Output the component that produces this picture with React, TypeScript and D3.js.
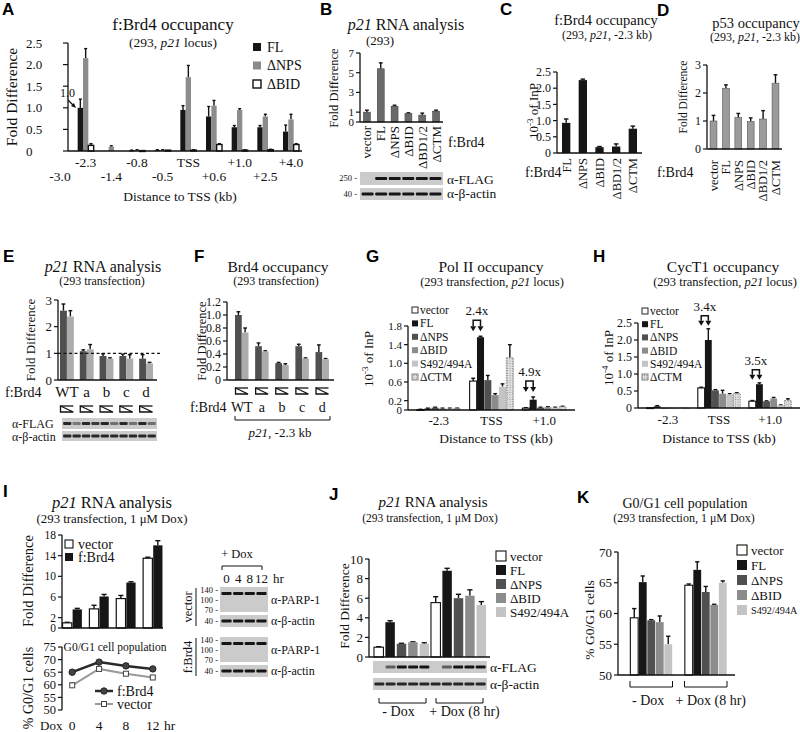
import React from "react";
import * as d3 from "d3";

const SERIF = "'Liberation Serif','Times New Roman',Times,serif";
const SANS = "'Liberation Sans',Arial,Helvetica,sans-serif";
const INK = "#111";
const C_BLACK = "#161616";
const C_DARK = "#505050";
const C_MID = "#8c8c8c";
const C_LIGHT = "#c4c4c4";

// ================= DATA =================
// Panel A : f:Brd4 occupancy along p21 locus
const aSites = ["-3.0", "-2.3", "-1.4", "-0.8", "-0.5", "TSS", "+0.6", "+1.0", "+2.5", "+4.0"];
const aSeries = ["FL", "ΔNPS", "ΔBID"];
const aFL = [0, 1.0, 0, 0.01, 0.02, 0.95, 0.8, 0.55, 0.55, 0.45];
const aFLErr = [0, 0.2, 0, 0.01, 0.01, 0.1, 0.23, 0.04, 0.04, 0.15];
const aNPS = [0, 2.15, 0.1, 0.02, 0.02, 1.71, 1.05, 0.95, 0.8, 0.73];
const aNPSErr = [0, 0.22, 0.02, 0.01, 0.01, 0.27, 0.12, 0.03, 0.05, 0.12];
const aBID = [0, 0.13, 0, 0.01, 0.02, 0.02, 0.15, 0.02, 0.03, 0.15];
const aBIDErr = [0, 0.04, 0, 0, 0, 0.01, 0.02, 0.01, 0.01, 0.02];
const aTicks = [0, 0.5, 1.0, 1.5, 2.0, 2.5];

// Panel B : p21 RNA
const bCats = ["vector", "FL", "ΔNPS", "ΔBID", "ΔBD1/2", "ΔCTM"];
const bVals = [1.0, 5.4, 1.6, 0.85, 0.7, 1.1];
const bErr = [0.2, 0.6, 0.1, 0.08, 0.2, 0.1];
const bTicks = [0, 1, 3, 5, 7];
const bFlagBands = [0, 1, 1, 1, 1, 1];
const bActinBands = [1, 1, 1, 1, 1, 1];

// Panel C : f:Brd4 occupancy -2.3 kb
const cCats = ["FL", "ΔNPS", "ΔBID", "ΔBD1/2", "ΔCTM"];
const cVals = [0.93, 2.25, 0.18, 0.2, 0.75];
const cErr = [0.12, 0.03, 0.02, 0.08, 0.08];
const cTicks = [0, 0.5, 1.0, 1.5, 2.0, 2.5];

// Panel D : p53 occupancy
const dCats = ["vector", "FL", "ΔNPS", "ΔBID", "ΔBD1/2", "ΔCTM"];
const dVals = [1.0, 2.17, 1.12, 0.98, 1.07, 2.35];
const dErr = [0.2, 0.12, 0.15, 0.13, 0.3, 0.3];
const dTicks = [0, 1, 2, 3];

// Panel E : p21 RNA (transfection)
const eCats = ["WT", "a", "b", "c", "d"];
const eDoses = ["high", "low"];
const eHigh = [2.6, 1.08, 0.9, 0.9, 0.8];
const eHighErr = [0.25, 0.05, 0.08, 0.07, 0.15];
const eLow = [2.38, 1.15, 0.8, 0.8, 0.62];
const eLowErr = [0.22, 0.18, 0.03, 0.15, 0.04];
const eTicks = [0, 1, 2, 3];
const eFlagBands = [0.9, 0.45, 0.9, 0.8, 0.9, 0.5, 0.9, 0.5, 0.9, 0.5];
const eActinBands = [0.9, 0.9, 0.9, 0.9, 0.9, 0.9, 0.9, 0.9, 0.9, 0.9];

// Panel F : Brd4 occupancy (transfection)
const fHigh = [1.0, 0.52, 0.26, 0.52, 0.43];
const fHighErr = [0.05, 0.05, 0.01, 0.03, 0.11];
const fLow = [0.73, 0.44, 0.23, 0.33, 0.32];
const fLowErr = [0.07, 0.01, 0.02, 0.01, 0.01];
const fTicks = [0, 0.2, 0.4, 0.6, 0.8, 1.0, 1.2];

// Panels G / H
const ghSites = ["-2.3", "TSS", "+1.0"];
const ghSeries = ["vector", "FL", "ΔNPS", "ΔBID", "S492/494A", "ΔCTM"];
const gVector = [0.01, 0.62, 0.04];
const gVectorErr = [0.005, 0.06, 0.01];
const gFL = [0.03, 1.56, 0.22];
const gFLErr = [0.01, 0.02, 0.06];
const gNPS = [0.05, 0.64, 0.05];
const gNPSErr = [0.01, 0.1, 0.01];
const gBID = [0.03, 0.32, 0.06];
const gBIDErr = [0.01, 0.03, 0.01];
const gS492 = [0.03, 0.5, 0.05];
const gS492Err = [0.01, 0.06, 0.01];
const gCTM = [0.03, 1.12, 0.07];
const gCTMErr = [0.01, 0.28, 0.01];
const gTicks = [0, 0.2, 0.6, 1.0, 1.4, 1.8];
const gFolds = ["", "2.4x", "4.9x"];

const hVector = [0.01, 0.59, 0.2];
const hVectorErr = [0, 0.02, 0.02];
const hFL = [0.05, 2.0, 0.7];
const hFLErr = [0.02, 0.33, 0.04];
const hNPS = [0.01, 0.52, 0.2];
const hNPSErr = [0, 0.02, 0.01];
const hBID = [0.01, 0.42, 0.28];
const hBIDErr = [0, 0.1, 0.03];
const hS492 = [0.01, 0.4, 0.08];
const hS492Err = [0, 0.02, 0.01];
const hCTM = [0.01, 0.43, 0.22];
const hCTMErr = [0, 0.02, 0.05];
const hTicks = [0, 0.5, 1.0, 1.5, 2.0, 2.5];
const hFolds = ["", "3.4x", "3.5x"];

// Panel I
const iTimes = ["0", "4", "8", "12"];
const iSeries = ["vector", "f:Brd4"];
const iVector = [1.0, 3.7, 5.7, 13.5];
const iVectorErr = [0.1, 0.7, 0.6, 0.2];
const iBrd4 = [3.6, 6.1, 8.8, 16.0];
const iBrd4Err = [0.2, 0.4, 0.15, 0.9];
const iTicks = [0, 2, 6, 10, 14, 18];
const iG1Brd4 = [65.0, 69.0, 67.5, 66.3];
const iG1Brd4Err = [0.8, 0.6, 1.0, 0.6];
const iG1Vector = [59.8, 66.3, 64.4, 62.9];
const iG1VectorErr = [0.9, 0.5, 0.6, 0.8];
const iG1Ticks = [50, 55, 60, 65, 70, 75];
const iParpBands = [1, 1, 1, 1];
const iActinBands = [1, 1, 1, 1];

// Panels J / K
const jkGroups = ["- Dox", "+ Dox (8 hr)"];
const jkSeries = ["vector", "FL", "ΔNPS", "ΔBID", "S492/494A"];
const jMinus = [1.0, 3.55, 1.35, 1.5, 1.35];
const jMinusErr = [0.05, 0.15, 0.05, 0.05, 0.1];
const jPlus = [5.55, 8.8, 6.0, 6.25, 5.3];
const jPlusErr = [0.6, 0.25, 0.4, 0.6, 0.35];
const jTicks = [0, 2, 4, 6, 8, 10];
const jFlagBands = [0, 0.6, 1, 1, 1, 0, 0.6, 1, 1, 1];
const jActinBands = [0.9, 0.9, 0.9, 0.9, 0.9, 0.9, 0.9, 0.9, 0.9, 0.9];

const kMinus = [59.3, 65.1, 58.9, 58.6, 55.0];
const kMinusErr = [1.5, 1.0, 0.1, 1.0, 1.3];
const kPlus = [64.6, 67.1, 63.5, 61.4, 65.0];
const kPlusErr = [0.2, 1.3, 0.9, 0.1, 0.3];
const kTicks = [50, 55, 60, 65, 70];

// ================= HELPERS =================
const f1 = (d: number) => (d === 0 ? "0" : d.toFixed(1));
const f0 = (d: number) => String(d);

function Letter({ x, y, c }: any) {
  return (
    <text x={x} y={y} fontFamily={SANS} fontWeight={700} fontSize={17} fill="#000">
      {c}
    </text>
  );
}

function YAxis({ y, x, ticks, fmt = f0, fs = 12, tick = 4, anchor = "end", lx }: any) {
  const lo = Math.min(...ticks);
  const hi = Math.max(...ticks);
  return (
    <g>
      <line x1={x} x2={x} y1={y(lo)} y2={y(hi)} stroke={INK} strokeWidth={1.3} />
      {ticks.map((t: number) => (
        <g key={t}>
          <line x1={x - tick} x2={x} y1={y(t)} y2={y(t)} stroke={INK} strokeWidth={1.2} />
          <text
            x={lx !== undefined ? lx : x - tick - 2}
            y={y(t)}
            dy="0.35em"
            textAnchor={anchor}
            fontSize={fs}
          >
            {fmt(t)}
          </text>
        </g>
      ))}
    </g>
  );
}

function HLine({ x1, x2, y }: any) {
  return <line x1={x1} x2={x2} y1={y} y2={y} stroke={INK} strokeWidth={1.3} />;
}

function VLabel({ x, y, fs, children }: any) {
  return (
    <text transform={`translate(${x},${y}) rotate(-90)`} textAnchor="middle" fontSize={fs}>
      {children}
    </text>
  );
}

function RotLabel({ x, y, fs, children }: any) {
  return (
    <text transform={`translate(${x},${y}) rotate(-90)`} textAnchor="end" dy="0.35em" fontSize={fs}>
      {children}
    </text>
  );
}

function Bar({ x, w, y, v, e = 0, fill, stroke = "none", sw = 0, dash, capW, base }: any) {
  if (!(v > 0)) return null;
  const b = base !== undefined ? base : y(y.domain()[0]);
  const top = y(v);
  const cx = x + w / 2;
  const cw = capW !== undefined ? capW : Math.max(3, w * 0.55);
  return (
    <g>
      {e > 0 && (
        <g stroke={INK} strokeWidth={1.4}>
          <line x1={cx} x2={cx} y1={top} y2={y(v + e)} />
          <line x1={cx - cw / 2} x2={cx + cw / 2} y1={y(v + e)} y2={y(v + e)} />
        </g>
      )}
      <rect
        x={x}
        y={top}
        width={w}
        height={Math.max(0.9, b - top)}
        fill={fill}
        stroke={stroke}
        strokeWidth={sw}
        strokeDasharray={dash}
      />
    </g>
  );
}

function Blot({ x0, x1, y0, h, bands, bandH = 3, fill = "#cbcbcb", dy = 0 }: any) {
  const lane = d3.scaleBand<number>().domain(d3.range(bands.length)).range([x0, x1]).padding(0.12);
  return (
    <g>
      <rect x={x0} y={y0} width={x1 - x0} height={h} fill={fill} />
      {bands.map((b: number, i: number) =>
        b > 0 ? (
          <rect
            key={i}
            x={lane(i)}
            y={y0 + h / 2 - bandH / 2 + dy}
            width={lane.bandwidth()}
            height={bandH}
            rx={1}
            fill="#151515"
            opacity={b}
          />
        ) : null
      )}
    </g>
  );
}

function Marker({ x, y, label }: any) {
  return (
    <text x={x} y={y} dy="0.35em" textAnchor="end" fontSize={8.5}>
      {label} -
    </text>
  );
}

function Wedge({ x, w, y, h }: any) {
  return (
    <g stroke={INK} strokeWidth={1.3} fill="#fff">
      <path d={`M${x},${y} L${x + w},${y + h} L${x},${y + h} Z`} />
      <line x1={x} x2={x + w} y1={y} y2={y} />
    </g>
  );
}

function Bracket({ x1, x2, y, h }: any) {
  return <path d={`M${x1},${y - h} V${y} H${x2} V${y - h}`} fill="none" stroke={INK} strokeWidth={1} />;
}

function FoldArrow({ x1, x2, top, tip, label, fs = 13 }: any) {
  const ah = 5;
  const aw = 3;
  return (
    <g>
      <path d={`M${x1},${tip - ah} V${top} H${x2} V${tip - ah}`} fill="none" stroke={INK} strokeWidth={1.5} />
      <path d={`M${x1 - aw},${tip - ah} L${x1 + aw},${tip - ah} L${x1},${tip} Z`} fill={INK} />
      <path d={`M${x2 - aw},${tip - ah} L${x2 + aw},${tip - ah} L${x2},${tip} Z`} fill={INK} />
      <text x={(x1 + x2) / 2} y={top - 5} textAnchor="middle" fontSize={fs}>
        {label}
      </text>
    </g>
  );
}

function InP({ exp }: any) {
  return (
    <>
      <tspan>10</tspan>
      <tspan dy={-5} fontSize={9}>
        {exp}
      </tspan>
      <tspan dy={5}> of InP</tspan>
    </>
  );
}

// ================= PANELS =================
function PanelA() {
  const y = d3.scaleLinear().domain([0, 2.5]).range([151, 43]);
  const x = d3.scalePoint<string>().domain(aSites).range([60, 291]);
  const inner = d3.scaleBand<string>().domain(aSeries).range([-8, 8]);
  const bw = inner.bandwidth();
  const series = [
    { v: aFL, e: aFLErr, fill: C_BLACK, stroke: "none", sw: 0 },
    { v: aNPS, e: aNPSErr, fill: C_MID, stroke: "none", sw: 0 },
    { v: aBID, e: aBIDErr, fill: "#fff", stroke: INK, sw: 1.4 },
  ];
  const legY = d3.scalePoint<string>().domain(aSeries).range([47, 84]);
  return (
    <g>
      <Letter x={2} y={15} c="A" />
      <text x={173} y={30} textAnchor="middle" fontSize={17}>
        f:Brd4 occupancy
      </text>
      <text x={173} y={47} textAnchor="middle" fontSize={13.5}>
        (293, <tspan fontStyle="italic">p21</tspan> locus)
      </text>
      <YAxis y={y} x={68} ticks={aTicks} fmt={f1} fs={13} tick={5} anchor="start" lx={26} />
      {series.map((s, si) =>
        aSites.map((site, i) => (
          <Bar
            key={site + si}
            x={(x(site) as number) + (inner(aSeries[si]) as number)}
            w={bw}
            y={y}
            v={s.v[i]}
            e={s.e[i]}
            fill={s.fill}
            stroke={s.stroke}
            sw={s.sw}
          />
        ))
      )}
      <HLine x1={68} x2={302} y={y(0)} />
      {aSites.map((site, i) => (
        <text key={site} x={x(site)} y={i % 2 === 1 ? 167 : 181} textAnchor="middle" fontSize={13.5}>
          {site}
        </text>
      ))}
      <text x={180} y={201} textAnchor="middle" fontSize={13.5}>
        Distance to TSS (kb)
      </text>
      <VLabel x={17} y={97} fs={15.5}>
        Fold Difference
      </VLabel>
      <text x={60} y={97} fontSize={12}>
        1.0
      </text>
      <line x1={68} y1={100} x2={74} y2={106} stroke={INK} strokeWidth={1.2} />
      <path d="M76,108 L71,106 L74,103 Z" fill={INK} />
      {aSeries.map((s, si) => (
        <g key={s}>
          <rect
            x={253}
            y={(legY(s) as number) - 4}
            width={8}
            height={8}
            fill={series[si].fill}
            stroke={si === 2 ? INK : "none"}
            strokeWidth={1.4}
          />
          <text x={267} y={legY(s)} dy="0.35em" fontSize={14}>
            {s}
          </text>
        </g>
      ))}
    </g>
  );
}

function PanelB() {
  const y = d3.scaleLinear().domain([0, 7]).range([122, 53]);
  const x = d3.scaleBand<string>().domain(bCats).range([360, 443]).paddingInner(0.5).paddingOuter(0.25);
  return (
    <g>
      <Letter x={320} y={15} c="B" />
      <text x={406} y={30} textAnchor="middle" fontSize={16}>
        <tspan fontStyle="italic">p21</tspan> RNA analysis
      </text>
      <text x={380} y={45} textAnchor="middle" fontSize={13}>
        (293)
      </text>
      <YAxis y={y} x={360} ticks={bTicks} fs={11} />
      {bCats.map((c, i) => (
        <Bar key={c} x={x(c)} w={x.bandwidth()} y={y} v={bVals[i]} e={bErr[i]} fill="#6a6a6a" stroke="#333" sw={0.5} />
      ))}
      <HLine x1={360} x2={443} y={y(0)} />
      {bCats.map((c) => (
        <RotLabel key={c} x={(x(c) as number) + x.bandwidth() / 2} y={126} fs={13}>
          {c}
        </RotLabel>
      ))}
      <VLabel x={338} y={88} fs={12.5}>
        Fold Difference
      </VLabel>
      <text x={448} y={147} fontSize={14}>
        f:Brd4
      </text>
      <Blot x0={360} x1={443} y0={172} h={13} bands={bFlagBands} />
      <Blot x0={360} x1={443} y0={188} h={12} bands={bActinBands} />
      <Marker x={357} y={178} label="250" />
      <Marker x={357} y={194} label="40" />
      <text x={447} y={179} dy="0.35em" fontSize={13.5}>
        α-FLAG
      </text>
      <text x={447} y={193} dy="0.35em" fontSize={13.5}>
        α-β-actin
      </text>
    </g>
  );
}

function PanelC() {
  const y = d3.scaleLinear().domain([0, 2.5]).range([153, 72]);
  const x = d3.scaleBand<string>().domain(cCats).range([557, 642]).paddingInner(0.5).paddingOuter(0.3);
  return (
    <g>
      <Letter x={500} y={15} c="C" />
      <text x={606} y={25} textAnchor="middle" fontSize={14.5}>
        f:Brd4 occupancy
      </text>
      <text x={607} y={39} textAnchor="middle" fontSize={12}>
        (293, <tspan fontStyle="italic">p21</tspan>, -2.3 kb)
      </text>
      <YAxis y={y} x={557} ticks={cTicks} fmt={f1} fs={12} />
      {cCats.map((c, i) => (
        <Bar key={c} x={x(c)} w={x.bandwidth()} y={y} v={cVals[i]} e={cErr[i]} fill={C_BLACK} />
      ))}
      <HLine x1={557} x2={642} y={y(0)} />
      {cCats.map((c) => (
        <RotLabel key={c} x={(x(c) as number) + x.bandwidth() / 2} y={158} fs={12.5}>
          {c}
        </RotLabel>
      ))}
      <VLabel x={538} y={111} fs={13}>
        <InP exp="-3" />
      </VLabel>
      <text x={525} y={177} fontSize={14}>
        f:Brd4
      </text>
    </g>
  );
}

function PanelD() {
  const y = d3.scaleLinear().domain([0, 3]).range([149, 65]);
  const x = d3.scaleBand<string>().domain(dCats).range([707, 782]).paddingInner(0.45).paddingOuter(0.25);
  return (
    <g>
      <Letter x={657} y={16} c="D" />
      <text x={756} y={28} textAnchor="middle" fontSize={14.5}>
        p53 occupancy
      </text>
      <text x={755} y={41} textAnchor="middle" fontSize={12}>
        (293, <tspan fontStyle="italic">p21</tspan>, -2.3 kb)
      </text>
      <YAxis y={y} x={707} ticks={dTicks} fs={12} />
      {dCats.map((c, i) => (
        <Bar key={c} x={x(c)} w={x.bandwidth()} y={y} v={dVals[i]} e={dErr[i]} fill="#9b9b9b" stroke="#555" sw={0.6} />
      ))}
      <HLine x1={707} x2={782} y={y(0)} />
      {dCats.map((c) => (
        <RotLabel key={c} x={(x(c) as number) + x.bandwidth() / 2} y={160} fs={12.5}>
          {c}
        </RotLabel>
      ))}
      <VLabel x={687} y={97} fs={11.5}>
        Fold Difference
      </VLabel>
      <text x={657} y={177} fontSize={14}>
        f:Brd4
      </text>
    </g>
  );
}

function PairedPanel({ y, x, high, highErr, low, lowErr }: any) {
  const inner = d3.scaleBand<string>().domain(eDoses).range([0, x.bandwidth()]);
  return (
    <g>
      {eCats.map((c, i) => (
        <g key={c}>
          <Bar x={(x(c) as number) + (inner("high") as number)} w={inner.bandwidth()} y={y} v={high[i]} e={highErr[i]} fill={C_DARK} />
          <Bar x={(x(c) as number) + (inner("low") as number)} w={inner.bandwidth()} y={y} v={low[i]} e={lowErr[i]} fill="#acacac" />
        </g>
      ))}
    </g>
  );
}

function PanelE() {
  const y = d3.scaleLinear().domain([0, 3]).range([380, 300]);
  const x = d3.scaleBand<string>().domain(eCats).range([58, 155]).paddingInner(0.3).paddingOuter(0.1);
  return (
    <g>
      <Letter x={3} y={262} c="E" />
      <text x={103} y={272} textAnchor="middle" fontSize={16}>
        <tspan fontStyle="italic">p21</tspan> RNA analysis
      </text>
      <text x={102} y={285} textAnchor="middle" fontSize={12}>
        (293 transfection)
      </text>
      <YAxis y={y} x={58} ticks={eTicks} fs={13} />
      <PairedPanel y={y} x={x} high={eHigh} highErr={eHighErr} low={eLow} lowErr={eLowErr} />
      <HLine x1={58} x2={157} y={y(0)} />
      <line x1={58} x2={160} y1={y(1)} y2={y(1)} stroke={INK} strokeWidth={1.3} strokeDasharray="3,2.5" />
      <VLabel x={35} y={340} fs={13}>
        Fold Difference
      </VLabel>
      <text x={5} y={397} fontSize={14}>
        f:Brd4
      </text>
      {eCats.map((c) => (
        <g key={c}>
          <text x={(x(c) as number) + x.bandwidth() / 2} y={397} textAnchor="middle" fontSize={15}>
            {c}
          </text>
          <Wedge x={(x(c) as number) + 0.5} w={x.bandwidth() - 1} y={406} h={6} />
        </g>
      ))}
      <text x={12} y={428} fontSize={12}>
        α-FLAG
      </text>
      <text x={12} y={441} fontSize={12}>
        α-β-actin
      </text>
      <Blot x0={62} x1={157} y0={418} h={11} bands={eFlagBands} />
      <Blot x0={62} x1={157} y0={431} h={10} bands={eActinBands} />
    </g>
  );
}

function PanelF() {
  const y = d3.scaleLinear().domain([0, 1.2]).range([380, 302]);
  const x = d3.scaleBand<string>().domain(eCats).range([230, 334]).paddingInner(0.33).paddingOuter(0.25);
  return (
    <g>
      <Letter x={194} y={262} c="F" />
      <text x={278} y={272} textAnchor="middle" fontSize={15.5}>
        Brd4 occupancy
      </text>
      <text x={276} y={285} textAnchor="middle" fontSize={12}>
        (293 transfection)
      </text>
      <YAxis y={y} x={227} ticks={fTicks} fmt={f1} fs={12} />
      <PairedPanel y={y} x={x} high={fHigh} highErr={fHighErr} low={fLow} lowErr={fLowErr} />
      <HLine x1={227} x2={334} y={y(0)} />
      <VLabel x={206} y={341} fs={12.5}>
        Fold Difference
      </VLabel>
      {eCats.map((c) => (
        <g key={c}>
          <Wedge x={(x(c) as number) + 0.5} w={x.bandwidth() - 1} y={388} h={6} />
          <text x={(x(c) as number) + x.bandwidth() / 2} y={412} textAnchor="middle" fontSize={14}>
            {c}
          </text>
        </g>
      ))}
      <text x={190} y={412} fontSize={14}>
        f:Brd4
      </text>
      <Bracket x1={235} x2={330} y={420} h={4} />
      <text x={280} y={437} textAnchor="middle" fontSize={13}>
        <tspan fontStyle="italic">p21</tspan>, -2.3 kb
      </text>
    </g>
  );
}

const ghFill = ["#fff", C_BLACK, C_DARK, C_MID, C_LIGHT, "url(#dots)"];
const ghStroke = [INK, "none", "none", "none", "none", "#777"];
const ghSw = [1.1, 0, 0, 0, 0, 0.8];
const ghDash = [undefined, undefined, undefined, undefined, undefined, "1.5,1"];

function OccPanel({ y, x, vals, errs, folds, foldOff, foldTip, legX, legY0, legStep }: any) {
  const inner = d3.scaleBand<string>().domain(ghSeries).range([0, x.bandwidth()]).paddingInner(0.04);
  const bw = inner.bandwidth();
  const cx = (site: string, s: string) => (x(site) as number) + (inner(s) as number) + bw / 2;
  return (
    <g>
      {ghSeries.map((s, si) =>
        ghSites.map((site, i) => (
          <Bar
            key={s + site}
            x={(x(site) as number) + (inner(s) as number)}
            w={bw}
            y={y}
            v={vals[si][i]}
            e={errs[si][i]}
            fill={ghFill[si]}
            stroke={ghStroke[si]}
            sw={ghSw[si]}
            dash={ghDash[si]}
          />
        ))
      )}
      {ghSites.map((site, i) =>
        folds[i] ? (
          <FoldArrow
            key={site}
            x1={cx(site, "vector")}
            x2={cx(site, "FL")}
            top={y(vals[1][i] + errs[1][i]) - foldOff}
            tip={y(vals[1][i] + errs[1][i]) - foldOff + foldTip}
            label={folds[i]}
          />
        ) : null
      )}
      {ghSeries.map((s, si) => (
        <g key={s}>
          <rect
            x={legX}
            y={legY0 + si * legStep - 3}
            width={6}
            height={6}
            fill={ghFill[si]}
            stroke={si === 0 ? INK : si === 5 ? "#777" : "none"}
            strokeWidth={0.9}
          />
          <text x={legX + 8} y={legY0 + si * legStep} dy="0.35em" fontSize={11.5}>
            {s}
          </text>
        </g>
      ))}
    </g>
  );
}

function PanelG() {
  const y = d3.scaleLinear().domain([0, 1.8]).range([410, 326]);
  const x = d3.scaleBand<string>().domain(ghSites).range([408, 575]).padding(0.17);
  const vals = [gVector, gFL, gNPS, gBID, gS492, gCTM];
  const errs = [gVectorErr, gFLErr, gNPSErr, gBIDErr, gS492Err, gCTMErr];
  return (
    <g>
      <Letter x={366} y={262} c="G" />
      <text x={491} y={272} textAnchor="middle" fontSize={15.5}>
        Pol II occupancy
      </text>
      <text x={492} y={286} textAnchor="middle" fontSize={12.5}>
        (293 transfection, <tspan fontStyle="italic">p21</tspan> locus)
      </text>
      <YAxis y={y} x={408} ticks={gTicks} fmt={f1} fs={11} />
      <OccPanel y={y} x={x} vals={vals} errs={errs} folds={gFolds} foldOff={16} foldTip={11} legX={412} legY0={310} legStep={13.4} />
      <HLine x1={408} x2={575} y={y(0)} />
      {ghSites.map((s) => (
        <text key={s} x={(x(s) as number) + x.bandwidth() / 2} y={425} textAnchor="middle" fontSize={13}>
          {s}
        </text>
      ))}
      <text x={496} y={443} textAnchor="middle" fontSize={13.5}>
        Distance to TSS (kb)
      </text>
      <VLabel x={373} y={359} fs={13}>
        <InP exp="-3" />
      </VLabel>
    </g>
  );
}

function PanelH() {
  const y = d3.scaleLinear().domain([0, 2.5]).range([408, 323]);
  const x = d3.scaleBand<string>().domain(ghSites).range([638, 800]).padding(0.17);
  const vals = [hVector, hFL, hNPS, hBID, hS492, hCTM];
  const errs = [hVectorErr, hFLErr, hNPSErr, hBIDErr, hS492Err, hCTMErr];
  return (
    <g>
      <Letter x={593} y={262} c="H" />
      <text x={723} y={272} textAnchor="middle" fontSize={15.5}>
        CycT1 occupancy
      </text>
      <text x={725} y={286} textAnchor="middle" fontSize={12.5}>
        (293 transfection, <tspan fontStyle="italic">p21</tspan> locus)
      </text>
      <YAxis y={y} x={638} ticks={hTicks} fmt={f1} fs={12} />
      <OccPanel y={y} x={x} vals={vals} errs={errs} folds={hFolds} foldOff={13} foldTip={10} legX={642} legY0={311} legStep={13.2} />
      <HLine x1={638} x2={800} y={y(0)} />
      {ghSites.map((s) => (
        <text key={s} x={(x(s) as number) + x.bandwidth() / 2} y={424} textAnchor="middle" fontSize={13}>
          {s}
        </text>
      ))}
      <text x={719} y={443} textAnchor="middle" fontSize={13.5}>
        Distance to TSS (kb)
      </text>
      <VLabel x={613} y={358} fs={13}>
        <InP exp="-4" />
      </VLabel>
    </g>
  );
}

function PanelI() {
  const y = d3.scaleLinear().domain([0, 18]).range([628, 535]);
  const x = d3.scaleBand<string>().domain(iTimes).range([62, 163]).paddingInner(0.28).paddingOuter(0.02);
  const inner = d3.scaleBand<string>().domain(iSeries).range([0, x.bandwidth()]).paddingInner(0.08);
  const y2 = d3.scaleLinear().domain([50, 75]).range([710, 647]);
  const cx = (t: string) => (x(t) as number) + x.bandwidth() / 2;
  const line = d3
    .line<number>()
    .x((_, i) => cx(iTimes[i]))
    .y((d) => y2(d));
  const blotX0 = 220;
  const blotX1 = 268;
  const lanes = d3.scaleBand<string>().domain(iTimes).range([blotX0, blotX1]).padding(0.12);
  const blotRows = [
    { name: "vector", top: 587 },
    { name: "f:Brd4", top: 637 },
  ];
  return (
    <g>
      <Letter x={3} y={497} c="I" />
      <text x={112} y={508} textAnchor="middle" fontSize={16.5}>
        <tspan fontStyle="italic">p21</tspan> RNA analysis
      </text>
      <text x={112} y={523} textAnchor="middle" fontSize={12.8}>
        (293 transfection, 1 μM Dox)
      </text>
      <YAxis y={y} x={62} ticks={iTicks} fs={11.5} />
      {iTimes.map((t, i) => (
        <g key={t}>
          <Bar x={(x(t) as number) + (inner("vector") as number)} w={inner.bandwidth()} y={y} v={iVector[i]} e={iVectorErr[i]} fill="#fff" stroke={INK} sw={1.2} />
          <Bar x={(x(t) as number) + (inner("f:Brd4") as number)} w={inner.bandwidth()} y={y} v={iBrd4[i]} e={iBrd4Err[i]} fill={C_BLACK} />
        </g>
      ))}
      <HLine x1={62} x2={163} y={y(0)} />
      <rect x={65} y={540} width={8} height={8} fill="#fff" stroke={INK} strokeWidth={1.1} />
      <text x={78} y={544} dy="0.35em" fontSize={14}>
        vector
      </text>
      <rect x={65} y={553} width={8} height={8} fill={C_BLACK} />
      <text x={78} y={557} dy="0.35em" fontSize={14}>
        f:Brd4
      </text>
      <VLabel x={33} y={581} fs={14.5}>
        Fold Difference
      </VLabel>

      {/* G0/G1 sub-chart */}
      <YAxis y={y2} x={62} ticks={iG1Ticks} fs={12.5} />
      <text x={115} y={651} textAnchor="middle" fontSize={11.5}>
        G0/G1 cell population
      </text>
      <path d={line(iG1Vector) as string} fill="none" stroke="#9a9a9a" strokeWidth={2} />
      <path d={line(iG1Brd4) as string} fill="none" stroke="#2a2a2a" strokeWidth={2.5} />
      {iTimes.map((t, i) => (
        <g key={t} stroke={INK} strokeWidth={1}>
          <line x1={cx(t)} x2={cx(t)} y1={y2(iG1Vector[i] - iG1VectorErr[i])} y2={y2(iG1Vector[i] + iG1VectorErr[i])} />
          <line x1={cx(t) - 2.5} x2={cx(t) + 2.5} y1={y2(iG1Vector[i] + iG1VectorErr[i])} y2={y2(iG1Vector[i] + iG1VectorErr[i])} />
          <line x1={cx(t)} x2={cx(t)} y1={y2(iG1Brd4[i] - iG1Brd4Err[i])} y2={y2(iG1Brd4[i] + iG1Brd4Err[i])} />
          <line x1={cx(t) - 2.5} x2={cx(t) + 2.5} y1={y2(iG1Brd4[i] + iG1Brd4Err[i])} y2={y2(iG1Brd4[i] + iG1Brd4Err[i])} />
          <rect x={cx(t) - 2.5} y={y2(iG1Vector[i]) - 2.5} width={5} height={5} fill="#fff" stroke="#444" />
          <circle cx={cx(t)} cy={y2(iG1Brd4[i])} r={3.2} fill="#444" stroke="#222" />
        </g>
      ))}
      <line x1={95} x2={113} y1={691} y2={691} stroke="#2a2a2a" strokeWidth={2.5} />
      <circle cx={104} cy={691} r={3.2} fill="#444" stroke="#222" />
      <text x={117} y={691} dy="0.35em" fontSize={14}>
        f:Brd4
      </text>
      <line x1={95} x2={113} y1={704} y2={704} stroke="#9a9a9a" strokeWidth={2} />
      <rect x={101.5} y={701.5} width={5} height={5} fill="#fff" stroke="#444" />
      <text x={117} y={704} dy="0.35em" fontSize={14}>
        vector
      </text>
      <VLabel x={33} y={688} fs={14}>
        % G0/G1 cells
      </VLabel>
      <text x={40} y={730} fontSize={13}>
        Dox
      </text>
      {iTimes.map((t) => (
        <text key={t} x={cx(t)} y={730} textAnchor="middle" fontSize={13.5}>
          {t}
        </text>
      ))}
      <text x={164} y={730} fontSize={13.5}>
        hr
      </text>

      {/* Western blots */}
      <text x={237} y={558} textAnchor="middle" fontSize={12.5}>
        + Dox
      </text>
      <Bracket x1={222} x2={262} y={566} h={-4} />
      {iTimes.map((t) => (
        <text key={t} x={(lanes(t) as number) + lanes.bandwidth() / 2} y={583} textAnchor="middle" fontSize={13}>
          {t}
        </text>
      ))}
      <text x={273} y={583} fontSize={13}>
        hr
      </text>
      {blotRows.map((r) => (
        <g key={r.name}>
          <Blot x0={blotX0} x1={blotX1} y0={r.top} h={25} bands={iParpBands} dy={-6} />
          <Blot x0={blotX0} x1={blotX1} y0={r.top + 28} h={12} bands={iActinBands} />
          <Marker x={218} y={r.top + 3} label="140" />
          <Marker x={218} y={r.top + 13} label="100" />
          <Marker x={218} y={r.top + 23} label="70" />
          <Marker x={218} y={r.top + 34} label="40" />
          <text x={271} y={r.top + 13} dy="0.35em" fontSize={12}>
            α-PARP-1
          </text>
          <text x={271} y={r.top + 34} dy="0.35em" fontSize={12}>
            α-β-actin
          </text>
          <line x1={196} x2={196} y1={r.top + 1} y2={r.top + 39} stroke={INK} strokeWidth={1} />
          <VLabel x={192} y={r.top + 20} fs={12.5}>
            {r.name}
          </VLabel>
        </g>
      ))}
    </g>
  );
}

function GroupedBars({ y, x, minus, minusErr, plus, plusErr, pad }: any) {
  const inner = d3.scaleBand<string>().domain(jkSeries).range([0, x.bandwidth()]).paddingInner(pad).paddingOuter(pad / 2);
  const fills = ["#fff", C_BLACK, C_DARK, C_MID, C_LIGHT];
  const data = [
    { g: jkGroups[0], v: minus, e: minusErr },
    { g: jkGroups[1], v: plus, e: plusErr },
  ];
  return (
    <g>
      {data.map((d) =>
        jkSeries.map((s, si) => (
          <Bar
            key={d.g + s}
            x={(x(d.g) as number) + (inner(s) as number)}
            w={inner.bandwidth()}
            y={y}
            v={d.v[si]}
            e={d.e[si]}
            fill={fills[si]}
            stroke={si === 0 ? INK : "none"}
            sw={1.1}
          />
        ))
      )}
    </g>
  );
}

function JKLegend({ x, y0, step, fs = 13, longFs }: any) {
  const fills = ["#fff", C_BLACK, C_DARK, C_MID, C_LIGHT];
  return (
    <g>
      {jkSeries.map((s, i) => (
        <g key={s}>
          <rect x={x} y={y0 + i * step - 5} width={10} height={10} fill={fills[i]} stroke={i === 0 ? INK : "none"} strokeWidth={1.1} />
          <text x={x + 14} y={y0 + i * step} dy="0.35em" fontSize={longFs && s.length > 6 ? longFs : fs}>
            {s}
          </text>
        </g>
      ))}
    </g>
  );
}

function PanelJ() {
  const y = d3.scaleLinear().domain([0, 10]).range([657, 559]);
  const x = d3.scaleBand<string>().domain(jkGroups).range([373, 487]).padding(0);
  return (
    <g>
      <Letter x={329} y={500} c="J" />
      <text x={433} y={507} textAnchor="middle" fontSize={15}>
        <tspan fontStyle="italic">p21</tspan> RNA analysis
      </text>
      <text x={430} y={522} textAnchor="middle" fontSize={11.5}>
        (293 transfection, 1 μM Dox)
      </text>
      <YAxis y={y} x={369} ticks={jTicks} fs={13} />
      <GroupedBars y={y} x={x} minus={jMinus} minusErr={jMinusErr} plus={jPlus} plusErr={jPlusErr} pad={0.17} />
      <HLine x1={369} x2={490} y={y(0)} />
      <JKLegend x={496} y0={556} step={14} />
      <VLabel x={349} y={606} fs={13.5}>
        Fold Difference
      </VLabel>
      <Blot x0={373} x1={487} y0={661} h={12} bands={jFlagBands} />
      <Blot x0={373} x1={487} y0={678} h={12} bands={jActinBands} />
      <text x={490} y={667} dy="0.35em" fontSize={13.5}>
        α-FLAG
      </text>
      <text x={490} y={684} dy="0.35em" fontSize={13.5}>
        α-β-actin
      </text>
      {jkGroups.map((g) => (
        <g key={g}>
          <Bracket x1={(x(g) as number) + 6} x2={(x(g) as number) + x.bandwidth() - 4} y={703} h={5} />
          <text x={(x(g) as number) + x.bandwidth() / 2 + (g === jkGroups[0] ? -3 : 6)} y={716} textAnchor="middle" fontSize={14}>
            {g}
          </text>
        </g>
      ))}
    </g>
  );
}

function PanelK() {
  const y = d3.scaleLinear().domain([50, 70]).range([675, 552]);
  const x = d3.scaleBand<string>().domain(jkGroups).range([618, 739]).paddingInner(0.22).paddingOuter(0.22);
  return (
    <g>
      <Letter x={577} y={503} c="K" />
      <text x={685} y={508} textAnchor="middle" fontSize={14}>
        G0/G1 cell population
      </text>
      <text x={684} y={522} textAnchor="middle" fontSize={12}>
        (293 transfection, 1 μM Dox)
      </text>
      <YAxis y={y} x={618} ticks={kTicks} fs={13} />
      <GroupedBars y={y} x={x} minus={kMinus} minusErr={kMinusErr} plus={kPlus} plusErr={kPlusErr} pad={0.08} />
      <HLine x1={618} x2={735} y={y(50)} />
      <JKLegend x={737} y0={550} step={15} fs={13} longFs={10.2} />
      <VLabel x={594} y={620} fs={13.5}>
        % G0/G1 cells
      </VLabel>
      {jkGroups.map((g) => (
        <g key={g}>
          <Bracket x1={x(g)} x2={(x(g) as number) + x.bandwidth()} y={687} h={6} />
          <text x={(x(g) as number) + x.bandwidth() / 2 + (g === jkGroups[0] ? -3 : 5)} y={705} textAnchor="middle" fontSize={14}>
            {g}
          </text>
        </g>
      ))}
    </g>
  );
}

export default function App() {
  return (
    <svg
      width={800}
      height={732}
      viewBox="0 0 800 732"
      style={{ position: "absolute", left: 0, top: 0, background: "#fff" }}
      fontFamily={SERIF}
      fill="#111"
    >
      <defs>
        <pattern id="dots" width="2.4" height="2.4" patternUnits="userSpaceOnUse">
          <rect width="2.4" height="2.4" fill="#e2e2e2" />
          <circle cx="1.2" cy="1.2" r="0.6" fill="#8a8a8a" />
        </pattern>
      </defs>
      <rect width={800} height={732} fill="#fff" />
      <PanelA />
      <PanelB />
      <PanelC />
      <PanelD />
      <PanelE />
      <PanelF />
      <PanelG />
      <PanelH />
      <PanelI />
      <PanelJ />
      <PanelK />
    </svg>
  );
}
